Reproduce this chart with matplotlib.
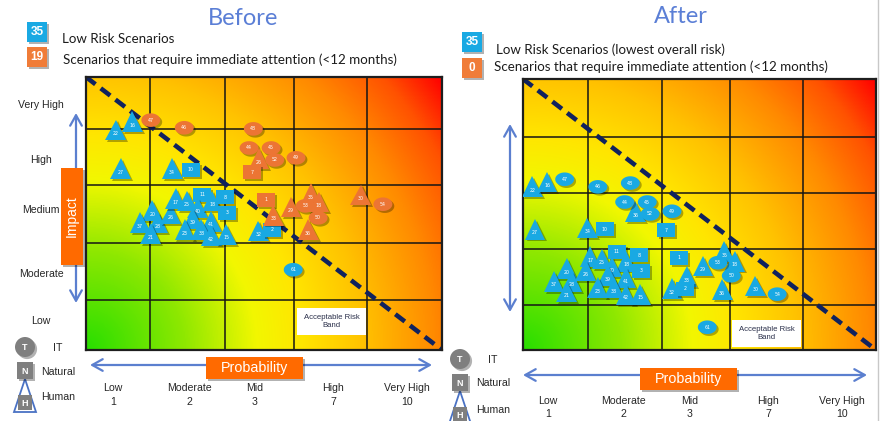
import numpy as np
import matplotlib
matplotlib.use("Agg")
import matplotlib.pyplot as plt
import matplotlib.patheffects as pe
from matplotlib.colors import LinearSegmentedColormap
from matplotlib.path import Path
from matplotlib.patches import Rectangle, Circle, Polygon

# ---------------- categories ----------------
impact_levels = ["Very High", "High", "Medium", "Moderate", "Low"]
prob_levels = ["Low", "Moderate", "Mid", "High", "Very High"]
prob_scores = ["1", "2", "3", "7", "10"]

# ---------------- summary counts ----------------
before_counts = [35, 19]
after_counts = [35, 0]
count_texts_before = ["Low Risk Scenarios",
                      "Scenarios that require immediate attention (<12 months)"]
count_texts_after = ["Low Risk Scenarios (lowest overall risk)",
                     "Scenarios that require immediate attention (<12 months)"]

# ---------------- scenarios before mitigation ----------------
# x = probability, y = impact, both in grid units (0-5)
before_id = [22, 16, 27, 34, 10, 20, 37, 28, 21, 26, 17, 25, 11, 40, 18, 8, 39,
             41, 3, 23, 38, 42, 15, 32, 2, 61,
             47, 46, 48, 44, 26, 45, 52, 49, 7, 1, 29, 35, 53, 18, 30, 54, 50,
             36, 33]
before_x = [0.42, 0.65, 0.49, 1.21, 1.47, 0.93, 0.76, 1.01, 0.91, 1.19, 1.26,
            1.42, 1.63, 1.57, 1.77, 1.95, 1.50, 1.76, 1.98, 1.39, 1.62, 1.76,
            1.97, 2.42, 2.61, 2.91,
            0.91, 1.38, 2.35, 2.29, 2.43, 2.60, 2.65, 2.95, 2.33, 2.53, 2.88,
            3.16, 3.08, 3.27, 3.86, 4.17, 3.26, 3.12, 2.63]
before_y = [4.03, 4.18, 3.32, 3.32, 3.30, 2.55, 2.33, 2.33, 2.13, 2.49, 2.77,
            2.73, 2.84, 2.60, 2.73, 2.80, 2.40, 2.36, 2.51, 2.20, 2.20, 2.09,
            2.12, 2.18, 2.20, 1.47,
            4.21, 4.07, 4.05, 3.70, 3.50, 3.70, 3.48, 3.52, 3.26, 2.75, 2.62,
            2.86, 2.64, 2.71, 2.84, 2.67, 2.42, 2.20, 2.47]
before_kind = ["H", "H", "H", "H", "N", "H", "H", "H", "H", "H", "H", "H", "N",
               "H", "H", "N", "H", "H", "N", "H", "H", "H", "H", "H", "N", "T",
               "T", "T", "T", "T", "H", "T", "T", "T", "N", "N", "H", "H", "T",
               "H", "H", "T", "T", "H", "H"]
before_urgent = [False] * 26 + [True] * 19

# ---------------- scenarios after mitigation ----------------
after_id = [22, 16, 47, 46, 48, 36, 44, 45, 52, 49, 27, 34, 10, 7, 20, 37, 28,
            21, 17, 26, 11, 25, 18, 40, 8, 3, 39, 41, 23, 38, 42, 15, 1, 33, 32,
            2, 29, 35, 18, 53, 50, 36, 30, 54, 61]
after_x = [0.13, 0.34, 0.59, 1.06, 1.52, 1.59, 1.44, 1.76, 1.80, 2.11, 0.17,
           0.91, 1.16, 2.03, 0.62, 0.44, 0.69, 0.62, 0.95, 0.89, 1.33, 1.12,
           1.46, 1.26, 1.64, 1.67, 1.20, 1.46, 1.06, 1.29, 1.46, 1.66, 2.21,
           2.32, 2.11, 2.29, 2.55, 2.85, 3.00, 2.76, 2.95, 2.82, 3.29, 3.60,
           2.61]
after_y = [3.01, 3.10, 3.15, 3.01, 3.08, 2.55, 2.73, 2.73, 2.51, 2.56, 2.23,
           2.25, 2.23, 2.21, 1.50, 1.27, 1.27, 1.07, 1.72, 1.46, 1.81, 1.68,
           1.64, 1.53, 1.75, 1.46, 1.37, 1.33, 1.15, 1.15, 1.03, 1.03, 1.70,
           1.35, 1.13, 1.13, 1.55, 1.81, 1.64, 1.61, 1.37, 1.11, 1.18, 1.03,
           0.42]
after_kind = ["H", "H", "T", "T", "T", "H", "T", "T", "T", "T", "H", "H", "N",
              "N", "H", "H", "H", "H", "H", "H", "N", "H", "H", "H", "N", "N",
              "H", "H", "H", "H", "H", "H", "N", "H", "H", "N", "H", "H", "H",
              "T", "T", "H", "H", "T", "T"]
after_urgent = [False] * 45

# ---------------- styling ----------------
BLUE = "#19a9e3"
ORANGE = "#ec7534"
TITLE_BLUE = "#5b7fd6"
ARROW_BLUE = "#5b7fcf"
BOX_ORANGE = "#ff6a00"
TXT = "#1c1c1c"

heat = LinearSegmentedColormap.from_list(
    "risk",
    [(0.0, "#28de00"), (0.22, "#8fe800"), (0.38, "#f2f700"), (0.48, "#ffe600"),
     (0.62, "#ffc200"), (0.78, "#ff8a00"), (0.9, "#ff5200"), (1.0, "#ff0000")])

_t = np.linspace(0, 2 * np.pi, 64)
ELLIPSE = Path(np.column_stack([np.cos(_t), 0.72 * np.sin(_t)]), closed=True)
BOXM = Path([(-1, -0.78), (1, -0.78), (1, 0.78), (-1, 0.78), (-1, -0.78)],
            closed=True)
MARKER = {"T": ELLIPSE, "N": BOXM, "H": "^"}
MSIZE = {"T": 13.6, "N": 13.0, "H": 15.0}

shadow = [pe.SimplePatchShadow(offset=(1.4, -1.4), shadow_rgbFace="black",
                               alpha=0.3), pe.Normal()]

W, H = 882, 421
fig = plt.figure(figsize=(W / 100, H / 100), dpi=100)
fig.patch.set_facecolor("white")


def draw_panel(left, top, right, bottom, xgrid, ygrid, ids, xs, ys, kinds, urgent):
    ax = fig.add_axes([left / W, 1 - bottom / H, (right - left) / W,
                       (bottom - top) / H], zorder=2)
    wpx, hpx = right - left, bottom - top
    gx, gy = np.meshgrid(np.linspace(0, 1, 320), np.linspace(0, 1, 260))
    field = np.hypot(gx * wpx, gy * hpx) / np.hypot(wpx, hpx)
    ax.imshow(field, cmap=heat, vmin=0, vmax=1, origin="lower",
              extent=(0, 5, 0, 5), aspect="auto", interpolation="bilinear",
              zorder=0)
    ax.set_xlim(0, 5)
    ax.set_ylim(0, 5)
    for v in xgrid:
        ax.axvline(v, color="#151515", lw=1.1, zorder=1)
    for v in ygrid:
        ax.axhline(v, color="#151515", lw=1.1, zorder=1)
    ax.plot([0, 5], [5, 0], ls=(0, (2.6, 1.45)), lw=3.3, color="#10225e",
            dash_capstyle="butt", zorder=2)
    z = 3
    for i, x, y, k, u in zip(ids, xs, ys, kinds, urgent):
        ax.plot([x], [y], ls="none", marker=MARKER[k], ms=MSIZE[k],
                color=ORANGE if u else BLUE, mec="none", path_effects=shadow,
                zorder=z)
        ax.annotate(str(i), (x, y), xytext=(0, -2.4 if k == "H" else 0),
                    textcoords="offset points", ha="center", va="center",
                    fontsize=3.4, color="white", zorder=z + 0.5)
        z += 1
    ax.set_xticks([])
    ax.set_yticks([])
    for s in ax.spines.values():
        s.set_linewidth(1.6)
        s.set_color("#1e1e1e")
    return ax


ax_before = draw_panel(86, 77, 442, 350, [0.90, 1.95, 2.92, 3.95],
                       [0.92, 1.96, 3.02, 4.05], before_id, before_x, before_y,
                       before_kind, before_urgent)
ax_after = draw_panel(523, 79, 876, 350, [0.92, 1.97, 2.93, 3.97],
                      [0.83, 1.86, 2.90, 3.93], after_id, after_x, after_y,
                      after_kind, after_urgent)

# ---------------- annotation layer (pixel coordinates) ----------------
ov = fig.add_axes([0, 0, 1, 1], zorder=10)
ov.set_xlim(0, W)
ov.set_ylim(H, 0)
ov.axis("off")
ov.patch.set_visible(False)

box_shadow = [pe.SimplePatchShadow(offset=(1.5, -1.5), shadow_rgbFace="black",
                                   alpha=0.3), pe.Normal()]
SANS = "Liberation Sans"
CAL = "Lato"

# titles
ov.text(243, 25, "Before", fontsize=17, color=TITLE_BLUE, family=CAL,
        ha="center", va="baseline")
ov.text(681, 23, "After", fontsize=17, color=TITLE_BLUE, family=CAL,
        ha="center", va="baseline")


def badges(x, ys, counts, texts, tx, tys):
    for y, c, col in zip(ys, counts, [BLUE, "#f07c38"]):
        ov.add_patch(Rectangle((x, y), 20, 20, fc=col, ec="none",
                               path_effects=box_shadow))
        ov.text(x + 10, y + 10, str(c), fontsize=8.5, weight="bold",
                color="white", family=SANS, ha="center", va="center")
    for t, (xx, yy) in zip(texts, zip(tx, tys)):
        ov.text(xx, yy, t, fontsize=9.6, color=TXT, family=CAL, ha="left",
                va="baseline")


badges(27, [22, 47], before_counts, count_texts_before, [62, 63], [43, 64])
badges(462, [32, 58], after_counts, count_texts_after, [496, 494], [54, 71])

# impact axis labels (before panel)
for lab, y in zip(impact_levels, [105, 160, 210, 274, 321]):
    ov.text(41, y, lab, fontsize=7.6, color="#262626", family=SANS,
            ha="center", va="center")

arrow = dict(arrowstyle="<->,head_length=0.75,head_width=0.42",
             color=ARROW_BLUE, lw=1.6, shrinkA=0, shrinkB=0)
ov.annotate("", xy=(76, 113), xytext=(76, 303), arrowprops=arrow)
ov.annotate("", xy=(510, 124), xytext=(510, 312), arrowprops=arrow)
ov.annotate("", xy=(90, 365), xytext=(432, 365), arrowprops=arrow)
ov.annotate("", xy=(523, 375), xytext=(867, 375), arrowprops=arrow)

ov.add_patch(Rectangle((61, 168), 22, 97, fc=BOX_ORANGE, ec="none",
                       path_effects=box_shadow, zorder=3))
ov.text(72, 216, "Impact", rotation=90, fontsize=10, color="white",
        family=SANS, ha="center", va="center", zorder=4)

for bx, by in [(206, 357), (640, 368)]:
    ov.add_patch(Rectangle((bx, by), 97, 22, fc=BOX_ORANGE, ec="none",
                           path_effects=box_shadow, zorder=3))
    ov.text(bx + 48.5, by + 11, "Probability", fontsize=10.3, color="white",
            family=SANS, ha="center", va="center", zorder=4)

# probability labels
for xs_, yw, yn in [([113, 189, 255, 333, 407], 388, 402),
                    ([548, 623, 690, 768, 842], 401, 414)]:
    for x, lab, sc in zip(xs_, prob_levels, prob_scores):
        ov.text(x, yw, lab, fontsize=7.6, color="#262626", family=SANS,
                ha="center", va="center")
        ov.text(x, yn, sc, fontsize=7.6, color="#262626", family=SANS,
                ha="center", va="center")

# acceptable risk band
for bx, by in [(297, 308), (732, 320)]:
    ov.add_patch(Rectangle((bx, by), 69, 27, fc="white", ec="none", zorder=3))
    ov.text(bx + 34.5, by + 13.5, "Acceptable Risk\nBand", fontsize=5.6,
            color="#2a2f4a", family=SANS, ha="center", va="center",
            linespacing=1.35, zorder=4)

# scenario type key
GRAY = "#7f7f7f"
for cx, cy, tx, ys in [(25, 347, 58, [348, 372, 397]),
                       (460, 359, 493, [360, 383, 410])]:
    ov.add_patch(Circle((cx, cy), 10, fc=GRAY, ec="none",
                        path_effects=box_shadow, zorder=3))
    ov.text(cx, cy, "T", fontsize=6.5, weight="bold", color="white",
            family=SANS, ha="center", va="center", zorder=4)
    ny = cy + 24
    ov.add_patch(Polygon([(cx, ny + 8), (cx - 11, ny + 41), (cx + 11, ny + 41)],
                         closed=True, fc="white", ec="#4a72c4", lw=1.3,
                         zorder=3))
    ov.add_patch(Rectangle((cx - 8, ny - 9), 16, 17, fc=GRAY, ec="none",
                           path_effects=box_shadow, zorder=3.5))
    ov.text(cx, ny, "N", fontsize=6.5, weight="bold", color="white",
            family=SANS, ha="center", va="center", zorder=4)
    ov.add_patch(Rectangle((cx - 7, ny + 24), 14, 15, fc=GRAY, ec="none",
                           zorder=3.6))
    ov.text(cx, ny + 32, "H", fontsize=6.5, weight="bold", color="white",
            family=SANS, ha="center", va="center", zorder=4)
    for lab, y in zip(["IT", "Natural", "Human"], ys):
        ov.text(tx, y, lab, fontsize=7.6, color="#262626", family=SANS,
                ha="center", va="center")

# page edge on the right
ov.plot([878, 878], [0, H], color="#c8c8c8", lw=1.0)

fig.savefig("out.png", dpi=100)
